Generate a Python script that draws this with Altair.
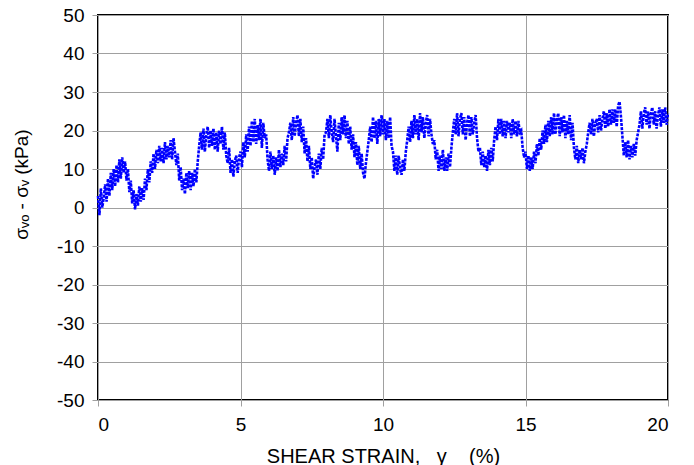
import altair as alt
import pandas as pd

# shear strain sampling step (%) and stress difference rows (one row per 1 % strain)
step = 0.05
row0 = [3, -2, 5, 0, 2.5, 6, 1.5, 7.5, 3, 9, 4.5, 10, 5.5, 11, 6.5, 12.5, 7.5, 13, 9, 12]
row1 = [7, 10, 4, 7, 1, 4.5, -0.5, 3.5, 0.5, 5.5, 1.5, 5, 2, 7.5, 4.5, 10, 6.5, 12, 9, 14]
row2 = [10, 15, 11.5, 16, 12, 15.5, 11.5, 17, 12.5, 16, 13, 17.5, 12.5, 18, 14.5, 11, 14, 7, 10.5, 4.5]
row3 = [7.5, 3.5, 9, 5, 9.5, 4.5, 9, 5.5, 10, 6.5, 12, 16, 19.5, 15, 20.5, 14.5, 19, 21, 15.5, 20]
row4 = [16, 20.5, 15, 19.5, 14.5, 20, 16.5, 21, 15, 19.5, 13.5, 11.5, 15.5, 9, 12.5, 8, 12, 13.5, 9, 13]
row5 = [14.5, 10.5, 17, 13, 19, 14.5, 21, 16, 22.5, 17, 23, 16.5, 21.5, 17.5, 23, 15.5, 22, 18, 19, 12.5]
row6 = [9.5, 14.5, 10, 13.5, 8.5, 13, 9.5, 15, 10.5, 14, 11, 16, 12, 18, 19.5, 22, 17.5, 23.5, 18.5, 22]
row7 = [24, 18.5, 23, 17, 21, 14, 18, 12, 16, 10, 13, 7.5, 10.5, 12.5, 8.5, 14, 10, 15.5, 12.5, 19]
row8 = [19.5, 23, 18, 24, 19.5, 17, 23, 18.5, 14.5, 22, 17.5, 23.5, 19, 24, 18, 22.5, 16.5, 21, 15, 19]
row9 = [13, 17, 11, 16, 10, 14, 9, 7.5, 11.5, 14.5, 17.5, 21, 17, 23.5, 18, 22.5, 16.5, 23, 18.5, 24]
row10 = [19, 23, 17.5, 22.5, 18, 23.5, 16, 14.5, 9.5, 13.5, 8.5, 13.5, 10, 8.5, 12.5, 9.5, 14.5, 17.5, 21, 17]
row11 = [22.5, 18, 24, 19, 23, 17.5, 24.5, 19.5, 23.5, 18, 22, 24, 18.5, 23, 19, 16.5, 17.5, 12.5, 15, 9.5]
row12 = [13.5, 10, 15, 9.5, 13, 9.5, 14, 10.5, 15.5, 19.5, 23, 19, 24.5, 18.5, 23, 24.5, 19, 23.5, 17.5, 22]
row13 = [24, 18.5, 23.5, 19, 22, 24, 18, 14.5, 15.5, 11, 14.5, 10.5, 13.5, 9.5, 15, 11, 15.5, 12, 17.5, 21]
row14 = [17.5, 23, 19, 23, 18.5, 22.5, 18, 22.5, 19.5, 22, 18, 23, 19, 22.5, 18.5, 22.5, 19.5, 20, 15.5, 13]
row15 = [14.5, 10, 13.5, 9.5, 13, 10, 14.5, 11.5, 16.5, 13.5, 18, 15, 20, 16.5, 21.5, 17, 22.5, 18.5, 23.5, 19]
row16 = [24.5, 19, 23, 24.5, 18.5, 23.5, 19.5, 24, 18, 22.5, 19, 24, 17.5, 22, 15.5, 12.5, 16, 11.5, 15, 12.5]
row17 = [15.5, 11.5, 14.5, 16.5, 19.5, 22, 19, 23, 18.5, 22, 23, 19.5, 24, 20, 23, 25, 20.5, 24.5, 21, 25.5]
row18 = [21.5, 25.5, 22, 25.5, 21, 26.5, 27.5, 23.5, 18.5, 13.5, 17, 13, 17.5, 12.5, 16, 13, 16.5, 13.5, 17.5, 19.5]
row19 = [21.5, 25, 20.5, 24.5, 26, 21.5, 25, 20.5, 24.5, 26, 21.5, 25, 20.5, 24, 26, 21, 25.5, 22, 26, 21.5, 24.5]

x_ticks = [0, 5, 10, 15, 20]
y_ticks = [-50, -40, -30, -20, -10, 0, 10, 20, 30, 40, 50]

rows = [row0, row1, row2, row3, row4, row5, row6, row7, row8, row9,
        row10, row11, row12, row13, row14, row15, row16, row17, row18, row19]
stress = [v for r in rows for v in r]
strain = [round(i * step, 2) for i in range(len(stress))]
df = pd.DataFrame({"strain": strain, "stress": stress, "order": range(len(stress))})

FONT = "Liberation Sans, Arial, DejaVu Sans"
NB = "\u00a0"

chart = alt.Chart(df).mark_line(
    color="#0000FF", strokeWidth=2.6, strokeDash=[3, 1.2]
).encode(
    x=alt.X("strain:Q",
            scale=alt.Scale(domain=[0, 20], nice=False, zero=False),
            axis=alt.Axis(values=x_ticks, title="SHEAR STRAIN," + NB * 3 + "γ" + NB * 4 + "(%)",
                          titleY=62, titleBaseline="alphabetic", titleFontSize=20,
                          labelPadding=9)),
    y=alt.Y("stress:Q",
            scale=alt.Scale(domain=[-50, 50], nice=False),
            axis=alt.Axis(values=y_ticks, title="σᵥₒ - σᵥ (kPa)",
                          labelExpr="replace(datum.label, '\u2212', '-')",
                          titleX=-77, titleY=169, titleAlign="center", titleBaseline="middle",
                          titleAngle=270, labelPadding=8)),
    order="order:Q",
).properties(
    width=570, height=385,
    padding={"left": 90, "top": 7, "right": 18, "bottom": 65},
    autosize=alt.AutoSizeParams(type="none"),
).configure_view(
    stroke="black", strokeWidth=2
).configure_axis(
    grid=True, gridColor="#a0a0a0", gridWidth=1,
    domain=False, ticks=True, tickColor="#a0a0a0", tickSize=6,
    labelFont=FONT, labelFontSize=19, labelColor="black",
    titleFont=FONT, titleFontSize=19, titleFontWeight="normal", titleColor="black",
)

chart.save("out.html", embed_options={"renderer": "svg", "actions": False})
